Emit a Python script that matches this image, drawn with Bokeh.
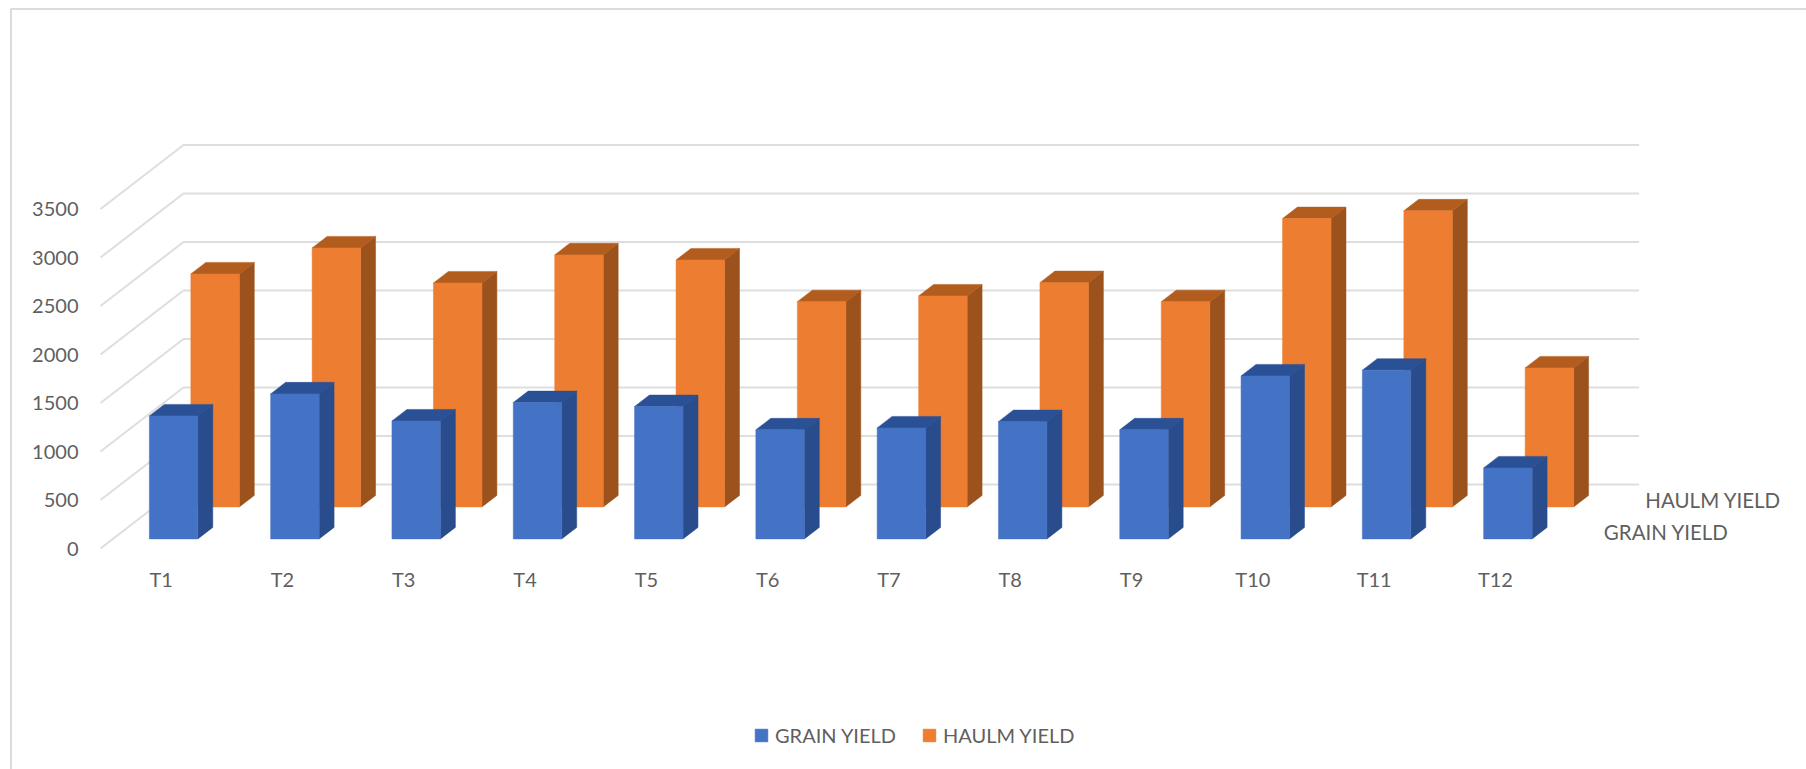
from bokeh.core.properties import value
from bokeh.embed import file_html
from bokeh.models import Legend, LegendItem, Range1d
from bokeh.plotting import figure
from bokeh.resources import INLINE

# Yields per treatment
categories = ["T1", "T2", "T3", "T4", "T5", "T6", "T7", "T8", "T9", "T10", "T11", "T12"]
grain_yield = [1268, 1495, 1216, 1405, 1364, 1124, 1144, 1209, 1124, 1680, 1739, 732]
haulm_yield = [2402, 2670, 2309, 2598, 2546, 2116, 2175, 2312, 2116, 2972, 3052, 1433]
y_ticks = [0, 500, 1000, 1500, 2000, 2500, 3000, 3500]
series_names = ["GRAIN YIELD", "HAULM YIELD"]

WIDTH, HEIGHT = 1806, 769
FONT = value("Lato")
TEXT_COLOR = "#5f5f5f"
GRID_COLOR = "#dedede"

# Data-to-screen scales: one category is 121.3 px, 500 units are 48.5 px
PX_PER_CAT = 121.3
PX_PER_UNIT = 0.097
X_START = -0.5 - 100 / PX_PER_CAT
Y_END = 548 / PX_PER_UNIT
x_range = Range1d(X_START, X_START + WIDTH / PX_PER_CAT)
y_range = Range1d(Y_END - HEIGHT / PX_PER_UNIT, Y_END)

# Oblique projection: depth 0 is the front of the floor, depth 1 the back wall
DEPTH_X = 83 / PX_PER_CAT
DEPTH_Y = 64 / PX_PER_UNIT
BAR_WIDTH = 48.5 / PX_PER_CAT
BAR_DEPTH = 0.18


def px(x, v, depth=0.0):
    return x + depth * DEPTH_X, v + depth * DEPTH_Y


p = figure(
    width=WIDTH, height=HEIGHT, x_range=x_range, y_range=y_range,
    output_backend="svg", toolbar_location=None, min_border=0,
    background_fill_color="white", border_fill_color="white", outline_line_color=None,
)
p.axis.visible = False
p.grid.visible = False

# Thin chart border along the top and left edges
frame_x = X_START + 10.5 / PX_PER_CAT
frame_y = Y_END - 8.5 / PX_PER_UNIT
p.line([frame_x, frame_x, x_range.end], [y_range.start, frame_y, frame_y],
       line_color="#dcdcdc", line_width=2)

# Gridlines on the side wall and back wall
wall_left, wall_right = -0.5, len(categories) - 0.5
grid_xs, grid_ys = [], []
for tick in y_ticks:
    x0, y0 = px(wall_left, tick, 0)
    x1, y1 = px(wall_left, tick, 1)
    x2, y2 = px(wall_right, tick, 1)
    grid_xs.append([x0, x1, x2])
    grid_ys.append([y0, y1, y2])
p.multi_line(grid_xs, grid_ys, line_color=GRID_COLOR, line_width=2)


def draw_series(values, depth, front, side, top):
    """Draw one row of 3D columns sitting at the given floor depth."""
    lefts, rights, bottoms, tops = [], [], [], []
    side_xs, side_ys, top_xs, top_ys = [], [], [], []
    for i, v in enumerate(values):
        xl, y0 = px(i - BAR_WIDTH / 2, 0, depth)
        xr, yt = px(i + BAR_WIDTH / 2, v, depth)
        dx, dy = BAR_DEPTH * DEPTH_X, BAR_DEPTH * DEPTH_Y
        lefts.append(xl)
        rights.append(xr)
        bottoms.append(y0)
        tops.append(yt)
        side_xs.append([xr, xr + dx, xr + dx, xr])
        side_ys.append([y0, y0 + dy, yt + dy, yt])
        top_xs.append([xl, xl + dx, xr + dx, xr])
        top_ys.append([yt, yt + dy, yt + dy, yt])
    p.patches(side_xs, side_ys, fill_color=side, line_color=side, line_width=0.5)
    p.patches(top_xs, top_ys, fill_color=top, line_color=top, line_width=0.5)
    return p.quad(left=lefts, right=rights, bottom=bottoms, top=tops,
                  fill_color=front, line_color=front, line_width=0.5)


# The row further back goes first so the nearer row covers it
haulm_bars = draw_series(haulm_yield, 0.65, "#ED7D31", "#9C521C", "#B25C1E")
grain_bars = draw_series(grain_yield, 0.15, "#4472C4", "#284C8C", "#2A5096")

# Value axis labels
p.text([wall_left - 22 / PX_PER_CAT] * len(y_ticks), y_ticks, text=[str(t) for t in y_ticks],
       text_font=FONT, text_font_size="20px", text_color=TEXT_COLOR,
       text_align="right", text_baseline="middle")

# Category labels under the floor
p.text(list(range(len(categories))), [-310] * len(categories), text=categories,
       text_font=FONT, text_font_size="20px", text_color=TEXT_COLOR,
       text_align="center", text_baseline="middle")

# Series labels along the depth axis
label_x = [px(wall_right + 27 / PX_PER_CAT, 0, d)[0] for d in (0.25, 0.75)]
label_y = [px(wall_right, 10, d)[1] for d in (0.25, 0.75)]
p.text(label_x, label_y, text=series_names,
       text_font=FONT, text_font_size="20.5px", text_color=TEXT_COLOR,
       text_align="left", text_baseline="middle")

legend = Legend(
    items=[LegendItem(label=series_names[0], renderers=[grain_bars]),
           LegendItem(label=series_names[1], renderers=[haulm_bars])],
    orientation="horizontal", location=(753, 22),
    glyph_width=16, glyph_height=16, label_standoff=6, spacing=25,
    padding=0, margin=0, border_line_color=None, background_fill_alpha=0,
    label_text_font="Lato", label_text_font_size="20px", label_text_color=TEXT_COLOR,
)
p.add_layout(legend, "center")

open("out.html", "w").write(file_html(p, INLINE))
